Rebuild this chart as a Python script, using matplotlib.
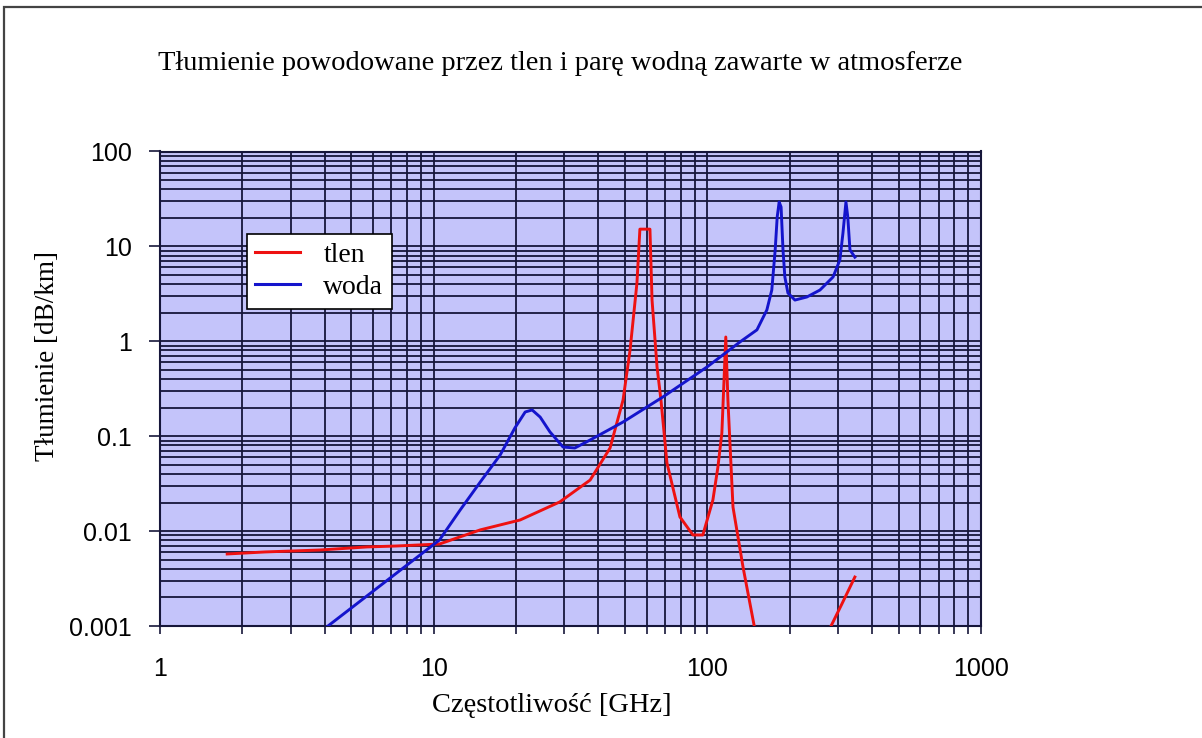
import matplotlib
matplotlib.use('Agg')
import matplotlib.pyplot as plt
from matplotlib.patches import Rectangle
from matplotlib.ticker import LogLocator, FixedLocator, FixedFormatter, NullFormatter

# attenuation curves [GHz] -> [dB/km]
tlen_f = [1.76, 2.42, 3.84, 5.71, 7.34, 10.5, 14.8, 20.7, 28.9, 37.3, 44.1, 49.2, 52.2, 55.3, 56.7,
	61.7, 62.8, 65.5, 67.7, 71.2, 79.4, 88.6, 96.3, 104.8, 109.3, 113.0, 116.8, 118.9, 124.1, 135.0, 149.3]
tlen_a = [0.00574, 0.00603, 0.00632, 0.00681, 0.00697, 0.00731, 0.0103, 0.0131, 0.0203, 0.0345, 0.075, 0.24, 0.81, 4.1, 15.2,
	15.2, 2.72, 0.536, 0.24, 0.0522, 0.0141, 0.0091, 0.0091, 0.0213, 0.0473, 0.108, 1.11, 0.24, 0.0179, 0.00419, 0.00091]
tlen2_f = [276, 310, 346]
tlen2_a = [0.00086, 0.0017, 0.00328]

woda_f = [3.84, 10.5, 12.5, 14.8, 17.5, 19.8, 21.6, 22.9, 24.5, 26.6, 29.7, 32.8, 37.3, 49.2, 68.8, 99.7,
	131.6, 151.8, 165, 172, 177, 180, 183, 186, 189, 192, 197, 209, 231, 258, 288, 305, 313, 321, 326, 332, 346]
woda_a = [0.00086, 0.00806, 0.0167, 0.0329, 0.0634, 0.122, 0.180, 0.189, 0.159, 0.111, 0.0769, 0.0751, 0.0912, 0.141, 0.259, 0.536,
	0.984, 1.32, 2.14, 3.47, 9.2, 20.4, 29.4, 26.0, 9.2, 4.76, 3.23, 2.72, 2.93, 3.47, 4.76, 7.2, 13.8, 29.4, 20.4, 9.2, 7.7]

x_ticks = [1, 10, 100, 1000]
x_labels = ['1', '10', '100', '1000']
y_ticks = [0.001, 0.01, 0.1, 1, 10, 100]
y_labels = ['0.001', '0.01', '0.1', '1', '10', '100']

W, H = 1202, 738
serif = 'Liberation Serif'
sans = 'Liberation Sans'
grid_col = '#16163a'

fig = plt.figure(figsize=(W / 100, H / 100), dpi=100)
fig.patch.set_facecolor('white')
ax = fig.add_axes([160 / W, 1 - 626 / H, 821 / W, 474.5 / H])
ax.set_facecolor('#c4c4fa')

ax.plot(tlen_f, tlen_a, color='#ee1111', lw=2.1, label='tlen', zorder=3)
ax.plot(tlen2_f, tlen2_a, color='#ee1111', lw=2.1, zorder=3)
ax.plot(woda_f, woda_a, color='#1414cc', lw=2.1, label='woda', zorder=3)

ax.set_xscale('log')
ax.set_yscale('log')
ax.set_xlim(1, 1000)
ax.set_ylim(0.001, 100)

ax.xaxis.set_major_locator(FixedLocator(x_ticks))
ax.xaxis.set_major_formatter(FixedFormatter(x_labels))
ax.xaxis.set_minor_locator(LogLocator(base=10, subs=range(2, 10)))
ax.xaxis.set_minor_formatter(NullFormatter())
ax.yaxis.set_major_locator(FixedLocator(y_ticks))
ax.yaxis.set_major_formatter(FixedFormatter(y_labels))
ax.yaxis.set_minor_locator(LogLocator(base=10, subs=range(2, 10)))
ax.yaxis.set_minor_formatter(NullFormatter())

ax.grid(True, which='both', color=grid_col, lw=1.3)
ax.set_axisbelow(True)
for s in ax.spines.values():
	s.set_color(grid_col)
	s.set_linewidth(1.5)

ax.tick_params(axis='x', which='both', direction='out', length=6, width=1.2, color=grid_col, pad=16)
ax.tick_params(axis='y', which='major', direction='out', length=8, width=1.2, color=grid_col, pad=12)
ax.tick_params(axis='y', which='minor', length=0)
for lab in ax.get_xticklabels() + ax.get_yticklabels():
	lab.set_fontfamily(sans)
	lab.set_fontsize(18)

leg = ax.legend(loc='upper left', bbox_to_anchor=(247 / W, 1 - 234 / H), bbox_transform=fig.transFigure,
	prop={'family': serif, 'size': 20}, frameon=True, fancybox=False, framealpha=1,
	edgecolor='black', handlelength=1.6, handletextpad=0.85, labelspacing=0.25,
	borderpad=0.3, borderaxespad=0)
leg.get_frame().set_linewidth(1.2)
for line in leg.get_lines():
	line.set_linewidth(2.2)

fig.text(560 / W, 1 - 63 / H, 'Tłumienie powodowane przez tlen i parę wodną zawarte w atmosferze',
	ha='center', va='center', fontfamily=serif, fontsize=20.5)
fig.text(552 / W, 1 - 706 / H, 'Częstotliwość [GHz]', ha='center', va='center', fontfamily=serif, fontsize=20.5)
fig.text(48 / W, 1 - 356 / H, 'Tłumienie [dB/km]', ha='center', va='center', rotation=90,
	fontfamily=serif, fontsize=19.5)

# outer frame
fig.patches.append(Rectangle((4 / W, -0.01), 1.2, 1 - 7 / H + 0.01, transform=fig.transFigure,
	fill=False, edgecolor='#444444', lw=1.6))

fig.savefig('out.png', dpi=100)
